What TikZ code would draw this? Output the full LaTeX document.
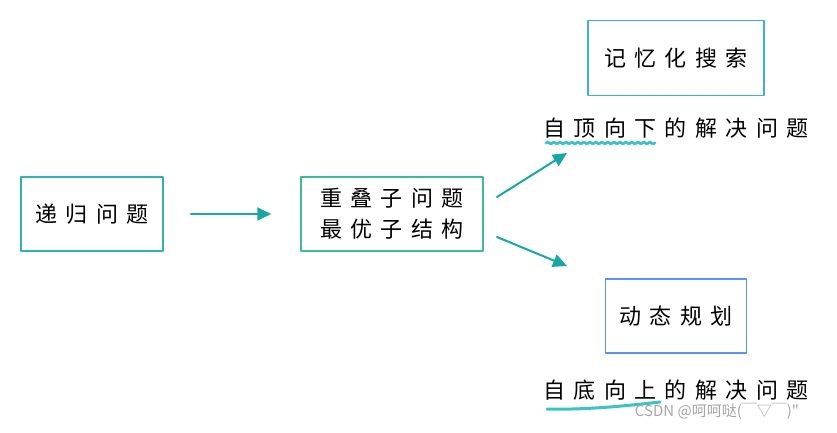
\documentclass[tikz,border=0pt]{standalone}
\usepackage{fontspec}
\newfontfamily\cjk[LetterSpace=38]{Noto Sans CJK SC}
\newfontfamily\wmfont{Noto Sans CJK SC}
\usetikzlibrary{arrows.meta,decorations.pathmorphing}
\definecolor{boxA}{HTML}{2FB3AE}
\definecolor{boxB}{HTML}{3DBA9C}
\definecolor{boxC}{HTML}{3FA9F5}
\definecolor{boxD}{HTML}{5B93F5}
\definecolor{arrc}{HTML}{17A8A6}
\definecolor{wavec}{HTML}{3CC2C2}

\begin{document}
\begin{tikzpicture}[x=1pt, y=-1pt, line join=round, line cap=round,
  box/.style={draw, line width=1.5pt, inner sep=0pt, align=center,
    font=\cjk\fontsize{22}{31}\selectfont},
  lbl/.style={inner sep=0pt, font=\cjk\fontsize{22}{31}\selectfont},
  arr/.style={draw=arrc, line width=2pt, -{Triangle[length=14pt,width=13pt]}},
  wave/.style={draw=wavec, line width=2.6pt}]
\useasboundingbox (0,0) rectangle (837,432);
% boxes
\node[box, draw=boxA, minimum width=142, minimum height=74] (rec) at (92,214) {递归问题};
\node[box, draw=boxB, minimum width=182, minimum height=74] (sub) at (392,214) {重叠子问题\\最优子结构};
\node[box, draw=boxC, minimum width=176, minimum height=75] (memo) at (676,58) {记忆化搜索};
\node[box, draw=boxD, minimum width=141, minimum height=74] (dp) at (676,316) {动态规划};
% labels
\node[lbl] (top) at (676,128) {自顶向下的解决问题};
\node[lbl] (bot) at (676,390) {自底向上的解决问题};
% arrows
\coordinate (upS) at (497,197);
\coordinate (upE) at (567,153);
\coordinate (dnS) at (497,237);
\coordinate (dnE) at (567,266);
\draw[arr, shorten <=27pt, shorten >=29pt] (rec) -- (sub);
\draw[arr] (upS) -- (upE);
\draw[arr] (dnS) -- (dnE);
% underlines
\draw[wave, decorate, decoration={snake, amplitude=1.1pt, segment length=6pt}] (546,143) -- (655,143);
\draw[wave, line width=3pt] (547,409) .. controls (585,410) and (625,406) .. (660,402);
% watermark
\node[inner sep=0pt, text=black!35, font=\wmfont\fontsize{15}{18}\selectfont] (wm) at (717,411) {CSDN @呵呵哒(￣▽￣)"};
\end{tikzpicture}
\end{document}
